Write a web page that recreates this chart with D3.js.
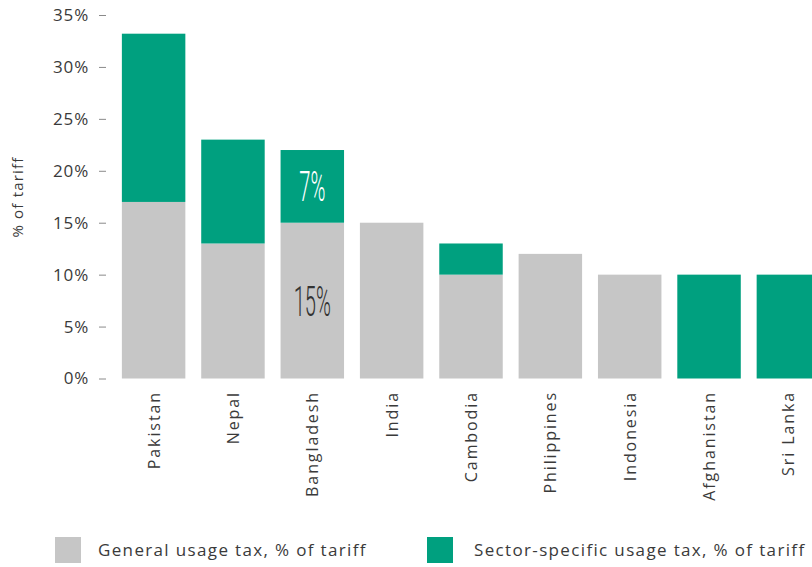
<!DOCTYPE html>
<html>
<head>
<meta charset="utf-8">
<script src="https://cdn.jsdelivr.net/npm/d3@7"></script>
<style>
  html, body { margin: 0; padding: 0; background: #fff; }
  svg { display: block; }
</style>
</head>
<body>
<svg id="chart" width="812" height="567"></svg>
<script>
// Usage taxes as a share of the tariff, by country
const countries = ["Pakistan", "Nepal", "Bangladesh", "India", "Cambodia", "Philippines", "Indonesia", "Afghanistan", "Sri Lanka"];
const generalTax = [17, 13, 15, 15, 10, 12, 10, 0, 0];
const sectorTax  = [16.2, 10, 7, 0, 3, 0, 0, 10, 10];
const yTicks = [0, 5, 10, 15, 20, 25, 30, 35];
const seriesNames = ["General usage tax, % of tariff", "Sector-specific usage tax, % of tariff"];
const seriesColors = ["#c6c6c6", "#00a07f"];
const labelledCountry = "Bangladesh";

const svg = d3.select("#chart");
const textColor = "#3a3a3a";
const uiFont = "'Open Sans', 'Noto Sans', sans-serif";

const x = d3.scaleBand()
  .domain(countries)
  .range([106, 836])
  .paddingInner(0.2)
  .paddingOuter(0.2);

const y = d3.scaleLinear()
  .domain([0, 35])
  .range([378.5, 15]);

// stacked series: general at the base, sector-specific on top
const rows = countries.map((c, i) => ({ country: c, general: generalTax[i], sector: sectorTax[i] }));
const stack = d3.stack().keys(["general", "sector"]);
const layers = stack(rows);

svg.append("g")
  .selectAll("g")
  .data(layers)
  .join("g")
  .attr("fill", (d, i) => seriesColors[i])
  .selectAll("rect")
  .data(d => d.filter(p => p[1] > p[0]))
  .join("rect")
  .attr("x", d => x(d.data.country))
  .attr("width", x.bandwidth())
  .attr("y", d => y(d[1]))
  .attr("height", d => y(d[0]) - y(d[1]));

// y axis
const yAxis = svg.append("g")
  .attr("transform", "translate(106,0)")
  .call(d3.axisLeft(y).tickValues(yTicks).tickSize(7).tickPadding(10).tickFormat(d => d + "%"));
yAxis.select(".domain").remove();
yAxis.selectAll(".tick line").attr("stroke", "#8a8a8a");
yAxis.selectAll(".tick text")
  .attr("fill", textColor)
  .style("font-family", uiFont)
  .style("font-size", "17px")
  .style("letter-spacing", "0.8px");

svg.append("text")
  .attr("transform", "translate(23,197) rotate(-90)")
  .attr("text-anchor", "middle")
  .attr("fill", textColor)
  .style("font-family", uiFont)
  .style("font-size", "15px")
  .style("letter-spacing", "1.2px")
  .text("% of tariff");

// x axis labels (rotated)
svg.append("g")
  .selectAll("text")
  .data(countries)
  .join("text")
  .attr("transform", d => `translate(${x(d) + x.bandwidth() / 2 + 6},391) rotate(-90)`)
  .attr("text-anchor", "end")
  .attr("fill", textColor)
  .style("font-family", uiFont)
  .style("font-size", "16px")
  .style("letter-spacing", "1.9px")
  .text(d => d);

// value labels on the Bangladesh bar
const bi = countries.indexOf(labelledCountry);
const bx = x(labelledCountry) + x.bandwidth() / 2;
const valueLabels = [
  { v: generalTax[bi], mid: (0 + generalTax[bi]) / 2, color: "#333" },
  { v: sectorTax[bi], mid: generalTax[bi] + sectorTax[bi] / 2, color: "#fff" }
];
svg.append("g")
  .selectAll("text")
  .data(valueLabels)
  .join("text")
  .attr("transform", d => `translate(${bx},${y(d.mid) + 15}) scale(0.48,1)`)
  .attr("text-anchor", "middle")
  .attr("fill", d => d.color)
  .style("font-family", "Roboto, 'Open Sans', sans-serif")
  .style("font-weight", 300)
  .style("font-size", "42px")
  .text(d => d.v + "%");

// legend
const legendX = [55, 427];
const legend = svg.append("g")
  .selectAll("g")
  .data(seriesNames)
  .join("g")
  .attr("transform", (d, i) => `translate(${legendX[i]},537)`);
legend.append("rect")
  .attr("width", 26)
  .attr("height", 26)
  .attr("fill", (d, i) => seriesColors[i]);
legend.append("text")
  .attr("x", (d, i) => i === 0 ? 43 : 47)
  .attr("y", 19)
  .attr("fill", textColor)
  .style("font-family", uiFont)
  .style("font-size", "17px")
  .style("letter-spacing", "1.35px")
  .text(d => d);
</script>
</body>
</html>
